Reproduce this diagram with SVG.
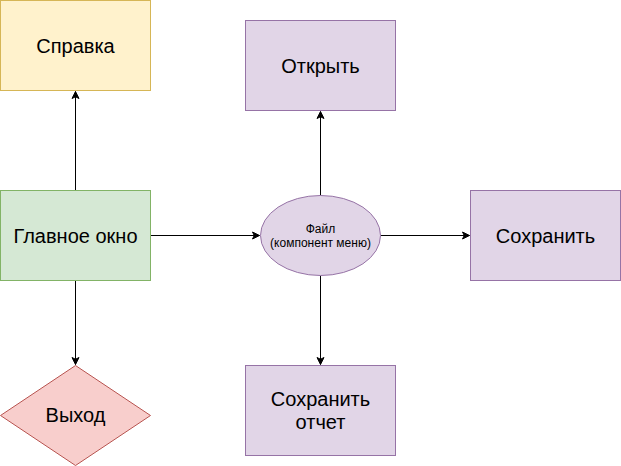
<svg xmlns="http://www.w3.org/2000/svg" width="621" height="466" viewBox="0 0 621 466">
<style>
  text { font-family: "Liberation Sans", Arial, sans-serif; fill: #000; text-anchor: middle; }
  .big { font-size: 20px; }
  .small { font-size: 12px; }
  .edge { stroke: #000; stroke-width: 1; fill: none; marker-end: url(#arrow); }
  .yellow { fill: #fff2cc; stroke: #d6b656; }
  .green { fill: #d5e8d4; stroke: #82b366; }
  .purple { fill: #e1d5e7; stroke: #9673a6; }
  .red { fill: #f8cecc; stroke: #b85450; }
</style>
<defs>
  <marker id="arrow" markerWidth="10" markerHeight="10" refX="8" refY="5" orient="auto" markerUnits="userSpaceOnUse">
    <path d="M1,1.5 L8,5 L1,8.5 L2.75,5 Z" fill="#000" stroke="#000" stroke-width="1"/>
  </marker>
</defs>
<rect width="621" height="466" fill="#ffffff"/>
<g id="connectors">
  <path class="edge" d="M75.5,190.5 L75.5,91.5"/>
  <path class="edge" d="M75.5,280.5 L75.5,364.5"/>
  <path class="edge" d="M150.5,235.5 L259.5,235.5"/>
  <path class="edge" d="M320.5,195.5 L320.5,111.5"/>
  <path class="edge" d="M380.5,235.5 L469.5,235.5"/>
  <path class="edge" d="M320.5,275.5 L320.5,364.5"/>
</g>
<g id="spravka">
  <rect class="yellow" x="0.5" y="0.5" width="150" height="90"/>
  <text class="big" x="75.5" y="53">Справка</text>
</g>
<g id="otkryt">
  <rect class="purple" x="245.5" y="20.5" width="150" height="90"/>
  <text class="big" x="320.5" y="73">Открыть</text>
</g>
<g id="glavnoe-okno">
  <rect class="green" x="0.5" y="190.5" width="150" height="90"/>
  <text class="big" x="75.5" y="243">Главное окно</text>
</g>
<g id="fail">
  <ellipse class="purple" cx="320.5" cy="235.5" rx="60" ry="40"/>
  <text class="small" x="320.5" y="233">Файл</text>
  <text class="small" x="320.5" y="247">(компонент меню)</text>
</g>
<g id="sokhranit">
  <rect class="purple" x="470.5" y="190.5" width="150" height="90"/>
  <text class="big" x="545.5" y="243">Сохранить</text>
</g>
<g id="sokhranit-otchet">
  <rect class="purple" x="245.5" y="365.5" width="150" height="90"/>
  <text class="big" x="320.5" y="406">Сохранить</text>
  <text class="big" x="320.5" y="429">отчет</text>
</g>
<g id="vykhod">
  <path class="red" d="M75.5,365.5 L150.5,415.5 L75.5,465.5 L0.5,415.5 Z"/>
  <text class="big" x="75.5" y="422">Выход</text>
</g>
</svg>
